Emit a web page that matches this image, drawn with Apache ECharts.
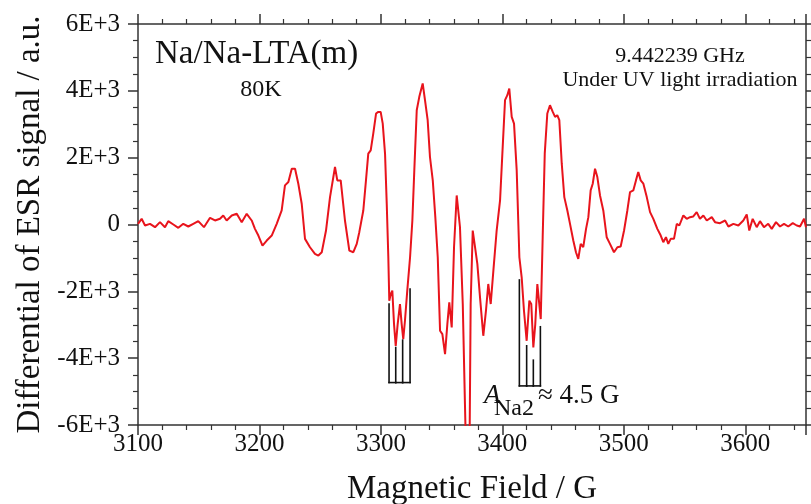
<!DOCTYPE html>
<html>
<head>
<meta charset="utf-8">
<title>ESR spectrum Na/Na-LTA(m)</title>
<script src="https://cdn.jsdelivr.net/npm/echarts@6/dist/echarts.min.js"></script>
<style>
  html, body { margin: 0; padding: 0; background: #fff; }
  #chart { width: 811px; height: 504px; }
</style>
</head>
<body>
<div id="chart"></div>
<script>
// magnetic field (G) and differential ESR signal (a.u.)
const field = [
  3100.0, 3103.0, 3105.8, 3109.9, 3114.0, 3118.1, 3122.2, 3124.9, 3129.1, 3133.2,
  3137.3, 3141.4, 3145.5, 3149.6, 3154.3, 3159.3, 3163.4, 3167.5, 3170.2, 3173.0,
  3177.2, 3181.3, 3185.4, 3189.5, 3193.6, 3196.3, 3199.1, 3202.5, 3206.0, 3210.1,
  3214.2, 3218.3, 3221.0, 3223.8, 3226.6, 3229.3, 3232.0, 3234.8, 3237.5, 3241.6,
  3245.7, 3248.5, 3251.3, 3254.8, 3258.1, 3262.2, 3264.1, 3266.9, 3270.4, 3274.0,
  3277.3, 3280.1, 3282.2, 3285.5, 3287.7, 3289.6, 3291.6, 3293.7, 3296.0, 3297.9,
  3299.8, 3301.5, 3303.4, 3304.8, 3306.1, 3306.9, 3308.1, 3309.4, 3310.8, 3312.2,
  3313.8, 3315.7, 3317.1, 3318.4, 3319.8, 3321.7, 3324.0, 3325.9, 3327.5, 3329.5,
  3331.6, 3334.4, 3336.3, 3338.5, 3340.4, 3342.7, 3344.8, 3346.8, 3348.7, 3350.6,
  3352.8, 3354.7, 3356.3, 3358.3, 3360.2, 3362.4, 3365.1, 3367.4, 3369.2, 3370.5,
  3372.8, 3373.9, 3375.6, 3377.5, 3379.4, 3381.6, 3384.3, 3386.5, 3388.4, 3390.4,
  3392.6, 3395.3, 3398.1, 3400.0, 3402.2, 3404.1, 3405.7, 3407.7, 3409.6, 3411.8,
  3414.0, 3415.9, 3417.8, 3420.0, 3422.2, 3423.8, 3425.5, 3427.1, 3428.8, 3430.4,
  3431.6, 3433.2, 3434.9, 3437.0, 3439.2, 3441.5, 3443.4, 3445.2, 3446.9, 3448.9,
  3451.0, 3453.5, 3455.7, 3458.4, 3460.6, 3462.5, 3464.5, 3466.6, 3468.9, 3470.8,
  3472.7, 3474.4, 3476.3, 3478.2, 3480.4, 3483.1, 3485.9, 3488.6, 3491.9, 3494.7,
  3497.4, 3500.2, 3502.9, 3505.1, 3507.8, 3510.0, 3511.9, 3513.9, 3516.1, 3518.9,
  3521.6, 3524.3, 3527.6, 3530.4, 3532.5, 3534.7, 3536.6, 3538.6, 3541.3, 3543.6,
  3545.7, 3549.0, 3551.8, 3554.5, 3557.2, 3560.0, 3562.7, 3565.5, 3568.3, 3572.4,
  3575.1, 3579.2, 3583.4, 3586.1, 3590.2, 3594.3, 3598.4, 3601.2, 3603.3, 3606.1,
  3609.4, 3612.1, 3615.4, 3618.9, 3621.8, 3625.3, 3628.6, 3631.9, 3635.4, 3639.1,
  3642.4, 3645.1, 3648.4, 3650.0
]
const signal = [
  20, 170, -30, 20, -80, 70, -80, 100, 0, -100,
  20, -60, 20, 100, -80, 200, 120, 170, 270, 120,
  270, 320, 70, 320, 120, -130, -330, -630, -480, -330,
  20, 420, 1170, 1270, 1670, 1670, 1220, 620, -430, -680,
  -880, -930, -830, -180, 820, 1720, 1320, 1320, 120, -780,
  -830, -580, -230, 420, 1320, 2120, 2220, 2720, 3320, 3370,
  3370, 3020, 2120, 620, -980, -2280, -2080, -1980, -2980, -3630,
  -2980, -2380, -2980, -3430, -2880, -1980, -980, 120, 1620, 3420,
  3820, 4220, 3720, 3120, 2020, 1320, 220, -980, -3180, -3280,
  -3880, -2980, -2330, -3080, -680, 870, -80, -2380, -5380, -7500,
  -7500, -2380, -180, -680, -1180, -2180, -3330, -2580, -1780, -2380,
  -1380, -180, 720, 2120, 3720, 3870, 4070, 3220, 3020, 1620,
  -980, -1580, -2580, -3480, -2280, -2380, -3680, -2980, -1780, -2380,
  -2830, -380, 2120, 3320, 3570, 3370, 3220, 3270, 3120, 1820,
  820, 420, 20, -480, -830, -1030, -580, -680, -130, 220,
  1020, 1220, 1670, 1420, 870, 420, -380, -580, -830, -680,
  -660, -180, 420, 970, 1020, 1320, 1570, 1320, 1220, 820,
  370, 170, -130, -330, -530, -380, -580, -430, -430, 20,
  -30, 270, 170, 220, 240, 370, 170, 270, 120, 220,
  70, 40, 120, -60, 20, -30, 120, 300, -180, 170,
  -80, 100, -80, 20, -130, 70, -60, 20, -60, 40,
  -30, -60, 170, -80
]

// hyperfine stick diagrams (two groups of four lines)
const stickFieldsA = [3306.7, 3312.2, 3317.9, 3324.0]
const stickTopsA = [-2380, -3680, -3460, -1930]
const stickBaseA = -4730
const stickFieldsB = [3414.0, 3420.0, 3425.5, 3431.3]
const stickTopsB = [-1660, -3630, -4060, -3060]
const stickBaseB = -4830

const FONT = 'Liberation Serif'
const AXIS_COLOR = '#333'

const chart = echarts.init(document.getElementById('chart'))

const stickSeries = (fields, tops, base) => ({
  type: 'custom',
  xAxisIndex: 0,
  yAxisIndex: 0,
  silent: true,
  z: 3,
  data: fields.map((f, i) => [f, tops[i], base]),
  renderItem: (params, api) => {
    const i = params.dataIndex
    const top = api.coord([api.value(0), api.value(1)])
    const bot = api.coord([api.value(0), api.value(2)])
    const style = { stroke: '#111', lineWidth: 1.6, lineCap: 'square' }
    const children = [
      { type: 'line', shape: { x1: top[0], y1: top[1], x2: bot[0], y2: bot[1] }, style }
    ]
    if (i < fields.length - 1) {
      const next = api.coord([fields[i + 1], base])
      children.push({ type: 'line', shape: { x1: bot[0], y1: bot[1], x2: next[0], y2: next[1] }, style })
    }
    return { type: 'group', children }
  }
})

const xCommon = {
  type: 'value',
  min: 3100,
  max: 3650,
  interval: 100,
  axisLine: { show: true, onZero: false, lineStyle: { color: AXIS_COLOR, width: 1.5 } },
  axisTick: { show: true, inside: false, length: 10, lineStyle: { color: AXIS_COLOR, width: 1.5 } },
  minorTick: { show: true, splitNumber: 5, length: 5, lineStyle: { color: AXIS_COLOR, width: 1.2 } },
  splitLine: { show: false }
}
const yCommon = {
  type: 'value',
  min: -6000,
  max: 6000,
  interval: 2000,
  axisLine: { show: true, onZero: false, lineStyle: { color: AXIS_COLOR, width: 1.5 } },
  axisTick: { show: true, inside: false, length: 10, lineStyle: { color: AXIS_COLOR, width: 1.5 } },
  minorTick: { show: true, splitNumber: 4, length: 5, lineStyle: { color: AXIS_COLOR, width: 1.2 } },
  splitLine: { show: false }
}

const option = {
  animation: false,
  backgroundColor: '#fff',
  grid: { left: 138, right: 5, top: 24, bottom: 79, containLabel: false, outerBoundsMode: 'none' },
  xAxis: [
    {
      ...xCommon,
      position: 'bottom',
      name: 'Magnetic Field / G',
      nameLocation: 'middle',
      nameGap: 48,
      nameTextStyle: { fontFamily: FONT, fontSize: 33, color: '#111' },
      axisLabel: {
        fontFamily: FONT,
        fontSize: 25,
        color: '#111',
        margin: 7,
        showMaxLabel: false,
        formatter: v => String(v)
      }
    },
    { ...xCommon, position: 'top', axisLabel: { show: false } }
  ],
  yAxis: [
    {
      ...yCommon,
      position: 'left',
      name: 'Differential of ESR signal / a.u.',
      nameLocation: 'middle',
      nameGap: 91,
      nameTextStyle: { fontFamily: FONT, fontSize: 33, color: '#111' },
      axisLabel: {
        fontFamily: FONT,
        fontSize: 25,
        color: '#111',
        margin: 18,
        formatter: v => (v === 0 ? '0' : (v / 1000) + 'E+3')
      }
    },
    { ...yCommon, position: 'right', axisLabel: { show: false } }
  ],
  graphic: [
    { type: 'text', left: 155, top: 38, style: { text: 'Na/Na-LTA(m)', font: '33px "Liberation Serif"', fill: '#111' } },
    { type: 'text', x: 261, y: 90, style: { text: '80K', font: '24px "Liberation Serif"', fill: '#111', align: 'center', verticalAlign: 'middle' } },
    { type: 'text', x: 680, y: 56, style: { text: '9.442239 GHz', font: '22px "Liberation Serif"', fill: '#111', align: 'center', verticalAlign: 'middle' } },
    { type: 'text', x: 680, y: 80, style: { text: 'Under UV light irradiation', font: '22px "Liberation Serif"', fill: '#111', align: 'center', verticalAlign: 'middle' } },
    { type: 'text', x: 484, y: 396, style: { text: 'A', font: 'italic 27px "Liberation Serif"', fill: '#111', verticalAlign: 'middle' } },
    { type: 'text', x: 494, y: 409, style: { text: 'Na2', font: '24px "Liberation Serif"', fill: '#111', verticalAlign: 'middle' } },
    { type: 'text', x: 538, y: 396, style: { text: '≈ 4.5 G', font: '27px "Liberation Serif"', fill: '#111', verticalAlign: 'middle' } }
  ],
  series: [
    {
      type: 'line',
      xAxisIndex: 0,
      yAxisIndex: 0,
      data: field.map((f, i) => [f, signal[i]]),
      showSymbol: false,
      clip: true,
      lineStyle: { color: '#e8141c', width: 2 },
      z: 2
    },
    stickSeries(stickFieldsA, stickTopsA, stickBaseA),
    stickSeries(stickFieldsB, stickTopsB, stickBaseB)
  ]
}

chart.setOption(option)
</script>
</body>
</html>
